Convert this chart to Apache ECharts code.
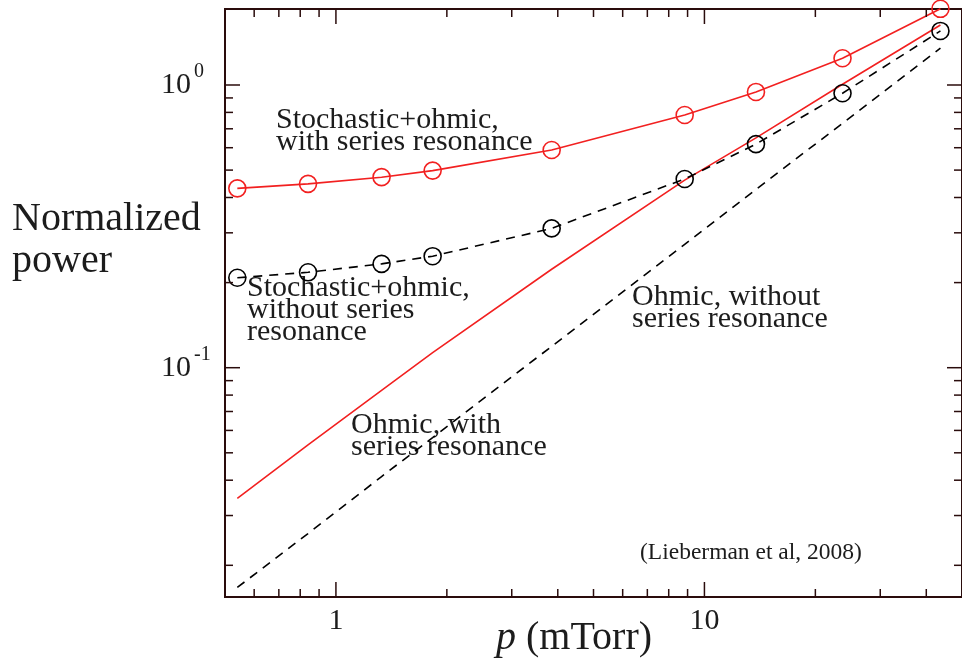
<!DOCTYPE html>
<html><head><meta charset="utf-8">
<script src="https://cdn.jsdelivr.net/npm/echarts@6/dist/echarts.min.js"></script>
<style>html,body{margin:0;padding:0;background:#fff}#c{width:962px;height:661px}</style>
</head><body><div id="c"></div>
<script>
// ---- data ----
const pressure = [0.54, 0.84, 1.33, 1.83, 3.85, 8.84, 13.8, 23.7, 43.7];
const stochWithSR = [0.431, 0.447, 0.472, 0.498, 0.589, 0.783, 0.945, 1.243, 1.86];
const stochWithoutSR = [0.208, 0.2175, 0.233, 0.248, 0.311, 0.465, 0.618, 0.935, 1.553];
const ohmicWithSR = [0.0345, 0.0533, 0.0832, 0.113, 0.223, 0.461, 0.65, 1.006, 1.63];
const ohmicWithoutSR = [0.0167, 0.0259, 0.0412, 0.0566, 0.119, 0.273, 0.427, 0.732, 1.35];

const xMajorTicks = [1, 10];
const xTickLabels = ['1', '10'];
const xMinorTicks = [0.6, 0.7, 0.8, 0.9, 2, 3, 4, 5, 6, 7, 8, 9, 20, 30, 40];
const yMajorTicks = [0.1, 1];
const yTickExponents = ['-1', '0'];
const yMinorTicks = [0.02, 0.03, 0.04, 0.05, 0.06, 0.07, 0.08, 0.09, 0.2, 0.3, 0.4, 0.5, 0.6, 0.7, 0.8, 0.9];

const X_MIN = 0.5, X_MAX = 50, Y_MIN = 0.01545, Y_MAX = 1.857;

const FONT = "'Liberation Serif','Times New Roman',serif";
const AXIS_COLOR = '#2a0c0c';
const RED = '#f22020';
const TEXT = '#1c1c1c';

function pairs(xs, ys) { return xs.map((x, i) => [x, ys[i]]); }
function matchIdx(arr, v) {
  for (let i = 0; i < arr.length; i++) if (Math.abs(arr[i] - v) / arr[i] < 1e-6) return i;
  return -1;
}

const tickData = [];
xMajorTicks.forEach(v => tickData.push([v, Y_MIN, 0]));
xMinorTicks.forEach(v => tickData.push([v, Y_MIN, 1]));
yMajorTicks.forEach(v => tickData.push([X_MIN, v, 2]));
yMinorTicks.forEach(v => tickData.push([X_MIN, v, 3]));

const chart = echarts.init(document.getElementById('c'), null, {renderer: 'canvas'});
chart.setOption({
  animation: false,
  backgroundColor: '#fff',
  grid: {left: 225, top: 9, width: 746, height: 588, show: true, borderColor: AXIS_COLOR, borderWidth: 2, backgroundColor: 'transparent', containLabel: false},
  xAxis: {
    type: 'log', logBase: 10, min: X_MIN, max: X_MAX,
    axisLine: {show: false}, axisTick: {show: false}, splitLine: {show: false}, minorTick: {show: false},
    axisLabel: {
      margin: 9, fontSize: 30, lineHeight: 30, fontFamily: FONT, color: TEXT,
      showMinLabel: false, showMaxLabel: false,
      formatter: v => { const i = matchIdx(xMajorTicks, v); return i < 0 ? '' : xTickLabels[i]; }
    }
  },
  yAxis: {
    type: 'log', logBase: 10, min: Y_MIN, max: Y_MAX,
    axisLine: {show: false}, axisTick: {show: false}, splitLine: {show: false}, minorTick: {show: false},
    axisLabel: {
      margin: 64, align: 'left', fontFamily: FONT, color: TEXT, fontSize: 30,
      showMinLabel: false, showMaxLabel: false,
      formatter: v => { const i = matchIdx(yMajorTicks, v); return i < 0 ? '' : '{b|10}{s|' + yTickExponents[i] + '}'; },
      rich: {
        b: {fontSize: 30, lineHeight: 46, fontFamily: FONT, color: TEXT},
        s: {fontSize: 20, lineHeight: 1, fontFamily: FONT, color: TEXT, verticalAlign: 'top', padding: [0, 0, 0, 3]}
      }
    }
  },
  graphic: [
    {type: 'text', left: 12, top: 198.5, style: {text: 'Normalized\npower', fontSize: 40, lineHeight: 42, fontFamily: FONT, fill: TEXT}},
    {type: 'text', x: 496, y: 638.5, style: {text: '{i|p} (mTorr)', fontSize: 40, lineHeight: 40, fontFamily: FONT, fill: TEXT, verticalAlign: 'middle',
      rich: {i: {fontStyle: 'italic', fontSize: 40, lineHeight: 40, fontFamily: FONT, fill: TEXT}}}},
    {type: 'text', x: 276, y: 109.5, style: {text: 'Stochastic+ohmic,\nwith series resonance', fontSize: 30, lineHeight: 22, fontFamily: FONT, fill: TEXT}},
    {type: 'text', x: 247, y: 277.5, style: {text: 'Stochastic+ohmic,\nwithout series\nresonance', fontSize: 30, lineHeight: 22, fontFamily: FONT, fill: TEXT}},
    {type: 'text', x: 632, y: 286.2, style: {text: 'Ohmic, without\nseries resonance', fontSize: 30, lineHeight: 22, fontFamily: FONT, fill: TEXT}},
    {type: 'text', x: 351, y: 414.2, style: {text: 'Ohmic, with\nseries resonance', fontSize: 30, lineHeight: 22, fontFamily: FONT, fill: TEXT}},
    {type: 'text', x: 640, y: 553, style: {text: '(Lieberman et al, 2008)', fontSize: 23.5, lineHeight: 23, fontFamily: FONT, fill: TEXT, verticalAlign: 'middle'}}
  ],
  series: [
    {
      name: 'Ohmic, without series resonance', type: 'line', data: pairs(pressure, ohmicWithoutSR),
      showSymbol: false, symbol: 'none', silent: true,
      lineStyle: {color: '#000', width: 1.6, type: [9, 7]}
    },
    {
      name: 'Ohmic, with series resonance', type: 'line', data: pairs(pressure, ohmicWithSR),
      showSymbol: false, symbol: 'none', silent: true,
      lineStyle: {color: RED, width: 1.6}
    },
    {
      name: 'Stochastic+ohmic, without series resonance', type: 'line', data: pairs(pressure, stochWithoutSR),
      symbol: 'circle', symbolSize: 17, silent: true, clip: false,
      itemStyle: {color: 'transparent', borderColor: '#000', borderWidth: 1.6},
      lineStyle: {color: '#000', width: 1.6, type: [9, 7]}
    },
    {
      name: 'Stochastic+ohmic, with series resonance', type: 'line', data: pairs(pressure, stochWithSR),
      symbol: 'circle', symbolSize: 17, silent: true, clip: false,
      itemStyle: {color: 'transparent', borderColor: RED, borderWidth: 1.6},
      lineStyle: {color: RED, width: 1.6}
    },
    {
      name: 'ticks', type: 'custom', data: tickData, silent: true, clip: false, z: 5,
      encode: {x: 0, y: 1},
      renderItem: function (params, api) {
        const cs = params.coordSys;
        const kind = api.value(2);
        const len = (kind === 0 || kind === 2) ? 15 : 8;
        const st = {stroke: AXIS_COLOR, lineWidth: 1.5};
        const p = api.coord([api.value(0), api.value(1)]);
        if (kind < 2) {
          const px = p[0], b = cs.y + cs.height, t = cs.y;
          return {type: 'group', children: [
            {type: 'line', shape: {x1: px, y1: b, x2: px, y2: b - len}, style: st},
            {type: 'line', shape: {x1: px, y1: t, x2: px, y2: t + len}, style: st}
          ]};
        }
        const py = p[1], l = cs.x, r = cs.x + cs.width;
        return {type: 'group', children: [
          {type: 'line', shape: {x1: l, y1: py, x2: l + len, y2: py}, style: st},
          {type: 'line', shape: {x1: r, y1: py, x2: r - len, y2: py}, style: st}
        ]};
      }
    }
  ]
});
</script></body></html>
